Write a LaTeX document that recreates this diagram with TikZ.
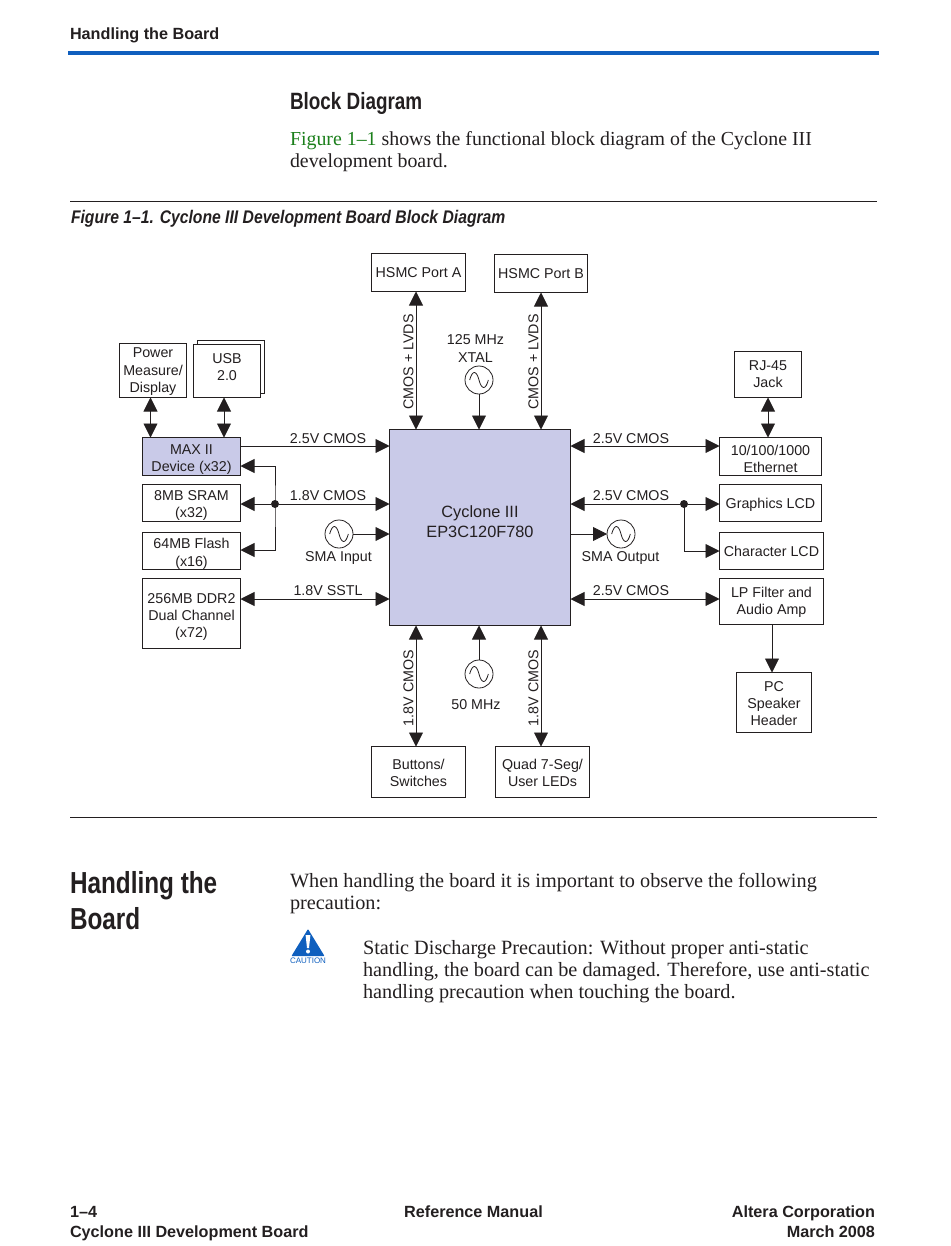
\documentclass[tikz,border=0pt]{standalone}
\usepackage{fontspec}
\usepackage{xcolor}
\setmainfont{Liberation Sans}
\newfontfamily\bodyfont{Liberation Serif}
\newfontfamily\narrowfont[FakeStretch=0.8]{Liberation Sans}
\newfontfamily\captionfont[FakeStretch=0.86]{Liberation Sans}
\usetikzlibrary{arrows.meta}
\definecolor{inkblack}{HTML}{231F20}
\definecolor{lavender}{HTML}{C9CAE8}
\definecolor{barblue}{HTML}{0F5FBE}
\definecolor{figgreen}{HTML}{1B7F1B}

\begin{document}
\begin{tikzpicture}[x=0.75pt,y=-0.75pt,>={Triangle[length=10.5pt,width=10.5pt]},
                    every node/.style={inner sep=0pt,outer sep=0pt,text=inkblack},
                    line width=0.6pt,draw=inkblack]
  \tikzset{blockbox/.style 2 args={draw=inkblack,fill=white,align=center,
             minimum width=#1*0.75pt,minimum height=#2*0.75pt,
             font=\fontsize{10.7}{12.9}\selectfont},
           label/.style={font=\fontsize{10.7}{12.9}\selectfont,align=center},
           osc/.style={draw=inkblack,circle,fill=white,minimum size=21pt,
             path picture={\draw[line width=0.6pt] (path picture bounding box.center)
               ++(-7pt,0) .. controls +(2pt,7.5pt) and +(-2pt,7.5pt) .. ++(7pt,0)
               .. controls +(2pt,-7.5pt) and +(-2pt,-7.5pt) .. ++(7pt,0);}},
           wire/.style={line width=0.65pt},
           junction/.style={circle,fill=inkblack,minimum size=6pt},
           body/.style={anchor=base west,align=left,
             font=\bodyfont\fontsize{15.2}{16.5}\selectfont},
           pagefoot/.style={font=\bfseries\fontsize{12.15}{14}\selectfont}}
  \useasboundingbox (0,0) rectangle (950,1246);

  % page around the figure
  \node[anchor=base west,font=\bfseries\fontsize{12.15}{14}\selectfont] (head) at (70,39) {Handling the Board};
  \coordinate (barL) at (68,52.5);
  \coordinate (barR) at (879,52.5);
  \draw[barblue,line width=3pt] (barL) -- (barR);
  \node[anchor=base west,font=\narrowfont\bfseries\fontsize{17.7}{20}\selectfont] (title) at (290,109) {Block Diagram};
  \node[body,font=\bodyfont\fontsize{14.9}{16.5}\selectfont] (intro) at (290,167) {\textcolor{figgreen}{Figure 1–1} shows the functional block diagram of the Cyclone III\\development board.};
  \coordinate (ruleAL) at (70,201);
  \coordinate (ruleAR) at (877,201);
  \draw (ruleAL) -- (ruleAR);
  \node[anchor=base west,font=\captionfont\bfseries\itshape\fontsize{13.7}{15}\selectfont] (caption) at (71,223) {Figure 1–1. Cyclone III Development Board Block Diagram};
  \coordinate (ruleBL) at (70,817);
  \coordinate (ruleBR) at (877,817);
  \draw (ruleBL) -- (ruleBR);

  % blocks
  \node[blockbox={94}{38}] (hsmca)  at (418.5,272.5)  {HSMC Port A};
  \node[blockbox={93}{38}] (hsmcb)  at (541,273.5)    {HSMC Port B};
  \node[blockbox={67}{54},text height=35pt] (power) at (153,370.5) {Power\\Measure/\\Display};
  \node[blockbox={67}{53}] (usbb)   at (231,366.5)    {};
  \node[blockbox={67}{53},text depth=6pt] (usb) at (227,371) {USB\\2.0};
  \node[blockbox={67}{46}] (rj)     at (768,374.5)    {RJ-45\\Jack};
  \node[blockbox={98}{38},text height=25pt,fill=lavender] (maxii) at (191.5,456.5) {MAX II\\Device (x32)};
  \node[blockbox={98}{37},text height=24pt] (sram)  at (191.5,503) {8MB SRAM\\(x32)};
  \node[blockbox={98}{37},text height=25pt] (flash) at (191.5,551) {64MB Flash\\(x16)};
  \node[blockbox={98}{70},text height=38.7pt] (ddr) at (191.5,613.5) {256MB DDR2\\Dual Channel\\(x72)};
  \node[blockbox={181}{196},fill=lavender,text depth=9pt,font=\fontsize{12.25}{15}\selectfont] (cyc) at (480,527.5) {Cyclone III\\EP3C120F780};
  \node[blockbox={102}{38},text height=24pt] (eth)  at (770.5,456.5) {10/100/1000\\Ethernet};
  \node[blockbox={102}{37},text height=11pt] (glcd) at (770.5,503) {Graphics LCD};
  \node[blockbox={104}{37}] (clcd)  at (771.5,551)    {Character LCD};
  \node[blockbox={104}{46},text height=22pt] (lp)   at (771.5,601.5) {LP Filter and\\Audio Amp};
  \node[blockbox={75}{60},text height=35pt] (pc)    at (774,702.5) {PC\\Speaker\\Header};
  \node[blockbox={94}{51},text height=22pt] (btn)   at (418.5,772) {Buttons/\\Switches};
  \node[blockbox={94}{51},text height=22pt] (quad)  at (542.5,772) {Quad 7-Seg/\\User LEDs};

  % oscillators
  \node[osc] (xtal)  at (479,380) {};
  \node[osc] (clk)   at (479,674) {};
  \node[osc] (smain) at (339,534) {};
  \node[osc] (smaout) at (621,534) {};
  \node[label] (xtaltxt)   at (475.5,348.5) {125 MHz\\XTAL};
  \node[label] (clktxt)    at (476,704.5)   {50 MHz};
  \node[label] (smaintxt)  at (338.5,557.5) {SMA Input};
  \node[label] (smaouttxt) at (620.5,557.5) {SMA Output};

  % rows and columns the wires run on
  \coordinate (rowA) at (0,446);
  \coordinate (rowB) at (0,504);
  \coordinate (rowC) at (0,534);
  \coordinate (rowD) at (0,599);
  \coordinate (colA) at (416,0);
  \coordinate (colB) at (541,0);
  \coordinate (colC) at (150.5,0);
  \coordinate (colD) at (224,0);
  \coordinate (colE) at (768,0);
  \coordinate (colF) at (772,0);
  \node[junction] (dotL) at (275,504) {};
  \node[junction] (dotR) at (684,504) {};
  \coordinate (maxin) at (240.5,466);
  \coordinate (flashin) at (240.5,550);

  \path[wire,<->] (hsmca.south -| colA) edge (cyc.north -| colA)
        (hsmcb.south -| colB) edge (cyc.north -| colB)
        (btn.north -| colA) edge (cyc.south -| colA)
        (quad.north -| colB) edge (cyc.south -| colB)
        (power.south -| colC) edge (maxii.north -| colC)
        (usb.south -| colD) edge (maxii.north -| colD)
        (rj.south -| colE) edge (eth.north -| colE)
        (cyc.east |- rowA) edge (eth.west |- rowA)
        (cyc.east |- rowD) edge (lp.west |- rowD)
        (ddr.east |- rowD) edge (cyc.west |- rowD);
  \path[wire,->] (maxii.east |- rowA) edge (cyc.west |- rowA)
        (xtal) edge (cyc.north -| xtal)
        (clk) edge (cyc.south -| clk)
        (smain) edge (cyc.west |- smain)
        (cyc.east |- smaout) edge (smaout)
        (dotL) edge (cyc.west |- rowB)
        (dotL) edge (sram.east |- rowB)
        (dotR) edge (cyc.east |- rowB)
        (dotR) edge (glcd.west |- rowB)
        (lp.south -| colF) edge (pc.north -| colF);
  \draw[wire,<->] (maxin) -| (dotL.center) |- (flashin);
  \draw[wire,->] (dotR.center) |- (clcd.west);

  % signal labels
  \node[label] (sigA) at (328,438.5) {2.5V CMOS};
  \node[label] (sigB) at (328,496)   {1.8V CMOS};
  \node[label] (sigC) at (328,591)   {1.8V SSTL};
  \node[label] (sigD) at (631,438.5) {2.5V CMOS};
  \node[label] (sigE) at (631,496)   {2.5V CMOS};
  \node[label] (sigF) at (631,591)   {2.5V CMOS};
  \node[label,rotate=90] (sigG) at (408.5,362) {CMOS + LVDS};
  \node[label,rotate=90] (sigH) at (533.5,362) {CMOS + LVDS};
  \node[label,rotate=90] (sigI) at (408.5,688) {1.8V CMOS};
  \node[label,rotate=90] (sigJ) at (533.5,688) {1.8V CMOS};

  % text below the figure
  \node[anchor=base west,align=left,font=\narrowfont\bfseries\fontsize{22.8}{26.3}\selectfont] (section) at (70,929) {Handling the\\Board};
  \node[body] (handling) at (290,909) {When handling the board it is important to observe the following\\precaution:};
  \node[body] (static) at (363,998) {Static Discharge Precaution: Without proper anti-static\\handling, the board can be damaged. Therefore, use anti-static\\handling precaution when touching the board.};
  \fill[barblue,rounded corners=0.5pt] (308,929) -- (324.5,956) -- (291.5,956) -- cycle;
  \fill[white] (305.6,935) -- (310.4,935) -- (309,948) -- (307,948) -- cycle;
  \fill[white] (308,951.5) circle (2);
  \node[font=\fontsize{6}{7}\selectfont,text=barblue] (cautiontxt) at (308,961) {CAUTION};

  % footer
  \node[pagefoot,anchor=base west] (footA) at (70,1217) {1–4};
  \node[pagefoot,anchor=base west] (footB) at (70,1237) {Cyclone III Development Board};
  \node[pagefoot,anchor=base] (footC) at (473.5,1217) {Reference Manual};
  \node[pagefoot,anchor=base east] (footD) at (875,1217) {Altera Corporation};
  \node[pagefoot,anchor=base east] (footE) at (875,1237) {March 2008};
\end{tikzpicture}
\end{document}
